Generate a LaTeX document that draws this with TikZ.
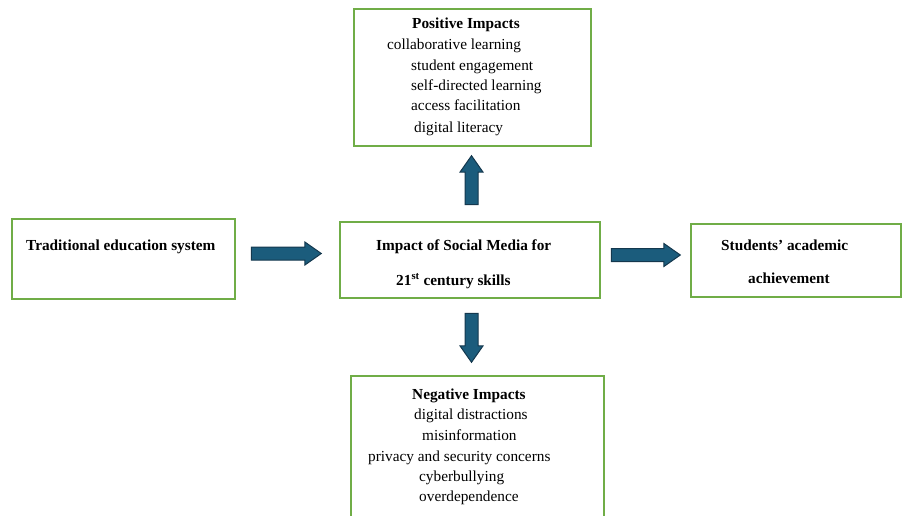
\documentclass[tikz,border=0pt]{standalone}
\usepackage{fontspec}
\setmainfont{Liberation Serif}
\usetikzlibrary{shapes.arrows, positioning, calc}

\definecolor{boxgreen}{RGB}{112,173,71}
\definecolor{arrowteal}{RGB}{27,92,124}
\definecolor{arrowedge}{RGB}{20,56,78}

\tikzset{
  greenbox/.style={draw=boxgreen, line width=1.6pt, inner sep=0pt},
  blockarrow/.style={single arrow, fill=arrowteal, draw=arrowedge, line width=1pt,
    minimum width=22pt, single arrow head extend=5pt, single arrow tip angle=70,
    inner xsep=0pt, inner ysep=6pt, anchor=tail},
  txt/.style={anchor=base west, inner sep=0pt, font=\fontsize{15.3}{18}\selectfont},
  btxt/.style={anchor=base west, inner sep=0pt, font=\fontsize{15.3}{18}\selectfont\bfseries},
}

\begin{document}
\begin{tikzpicture}[x=1pt, y=-1pt]
\useasboundingbox (0,0) rectangle (902,516);
% boxes
\node[greenbox, minimum width=237pt, minimum height=137pt] (pos) at (472.5,77.5) {};
\node[greenbox, minimum width=223pt, minimum height=80pt] (trad) at (123.5,259) {};
\node[greenbox, minimum width=260pt, minimum height=76pt] (mid) at (470,260) {};
\node[greenbox, minimum width=210pt, minimum height=73pt] (stud) at (796,260.5) {};
\node[greenbox, minimum width=253pt, minimum height=154pt] (neg) at (477.5,453) {};
% positive impacts
\node[btxt] (posT) at (412,29) {Positive Impacts};
\node[txt] (pos1) at (387,50) {collaborative learning};
\node[txt] (pos2) at (411,71) {student engagement};
\node[txt] (pos3) at (411,91) {self-directed learning};
\node[txt] (pos4) at (411,111) {access facilitation};
\node[txt] (pos5) at (414,132) {digital literacy};
% left, centre, right
\node[btxt] (tradT) at (26,250) {Traditional education system};
\node[btxt] (midT1) at (376,250) {Impact of Social Media for};
\node[btxt] (midT2) at (396,285) {21\textsuperscript{st} century skills};
\node[btxt] (studT1) at (721,250) {Students’ academic};
\node[btxt] (studT2) at (748,283) {achievement};
% negative impacts
\node[btxt] (negT) at (412,399) {Negative Impacts};
\node[txt] (neg1) at (414,419) {digital distractions};
\node[txt] (neg2) at (422,440) {misinformation};
\node[txt] (neg3) at (368,461) {privacy and security concerns};
\node[txt] (neg4) at (419,481) {cyberbullying};
\node[txt] (neg5) at (419,501) {overdependence};
% block arrows
\node[blockarrow, minimum height=70pt] (arrA) at ([xshift=15pt, yshift=5.5pt]trad.east) {};
\node[blockarrow, minimum height=69pt] (arrB) at ([xshift=10pt, yshift=5pt]mid.east) {};
\node[blockarrow, minimum height=49pt, rotate=90] (arrUp) at ([xshift=1.5pt, yshift=16pt]mid.north) {};
\node[blockarrow, minimum height=49pt, rotate=-90] (arrDn) at ([xshift=1.5pt, yshift=-14pt]mid.south) {};
\end{tikzpicture}
\end{document}
